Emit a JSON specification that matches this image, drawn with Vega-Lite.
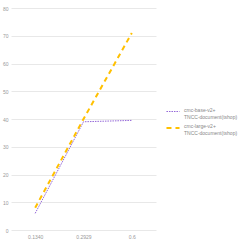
{
  "$schema": "https://vega.github.io/schema/vega-lite/v6.json",
  "width": 145,
  "height": 222,
  "padding": {"left": 2, "top": 6, "right": 2, "bottom": 2},
  "background": "white",
  "data": {"values": [
    {"x": "0.1340", "y": 6, "s": "cmc-base-v2+ TNCC-document(tshop)"},
    {"x": "0.2929", "y": 39, "s": "cmc-base-v2+ TNCC-document(tshop)"},
    {"x": "0.6", "y": 39.5, "s": "cmc-base-v2+ TNCC-document(tshop)"},
    {"x": "0.1340", "y": 8, "s": "cmc-large-v2+ TNCC-document(tshop)"},
    {"x": "0.2929", "y": 40, "s": "cmc-large-v2+ TNCC-document(tshop)"},
    {"x": "0.6", "y": 71, "s": "cmc-large-v2+ TNCC-document(tshop)"}
  ]},
  "mark": {"type": "line"},
  "encoding": {
    "x": {"field": "x", "type": "ordinal", "sort": null, "scale": {"type": "point", "padding": 0.5},
      "axis": {"title": null, "labelAngle": 0, "labelFontSize": 5, "labelColor": "#999", "domain": false, "ticks": false, "labelPadding": 4, "labelFont": "Liberation Sans"}},
    "y": {"field": "y", "type": "quantitative", "scale": {"domain": [0, 80]},
      "axis": {"title": null, "tickCount": 8, "labelFontSize": 5, "labelColor": "#999", "domain": false, "ticks": false, "gridColor": "#e8e8e8", "labelPadding": 3, "labelFont": "Liberation Sans"}},
    "color": {"field": "s", "type": "nominal", "sort": null,
      "scale": {"range": ["#9467d8", "#ffc000"]},
      "legend": {"title": null, "orient": "none", "legendX": 154, "legendY": 96, "labelFontSize": 5, "labelLineHeight": 5.5, "labelColor": "#888", "labelFont": "Liberation Sans", "labelExpr": "split(datum.label, ' ')", "labelBaseline": "alphabetic", "symbolType": "stroke", "symbolSize": 170, "rowPadding": -6, "labelLimit": 100, "labelOffset": 3}},
    "strokeDash": {"field": "s", "type": "nominal", "sort": null,
      "scale": {"range": [[1.5, 1], [5, 4]]}, "legend": null},
    "strokeWidth": {"field": "s", "type": "nominal", "sort": null,
      "scale": {"range": [1, 2]}, "legend": null}
  },
  "config": {"view": {"stroke": null}}
}
